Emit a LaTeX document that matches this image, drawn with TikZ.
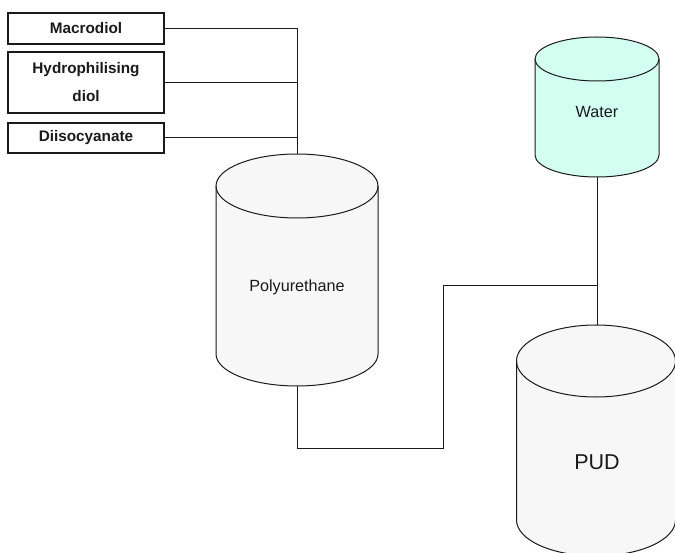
\documentclass[tikz,border=0pt]{standalone}
\usepackage{fontspec}
\setmainfont{Liberation Sans}
\definecolor{inkc}{HTML}{1A1A1A}
\definecolor{drumgray}{HTML}{F7F7F7}
\definecolor{watercyan}{HTML}{D2FFF0}
% drum: centre x, top-ellipse centre y, bottom-ellipse centre y, rx (pt), ry (pt), fill
\newcommand\drum[6]{%
  \filldraw[drumline, fill=#6] (#1-#4,#2) -- (#1-#4,#3) arc[start angle=180, end angle=360, x radius=#4pt, y radius=#5pt]
    -- (#1+#4,#2) arc[start angle=0, end angle=180, x radius=#4pt, y radius=#5pt] -- cycle;
  \draw[drumline] (#1-#4,#2) arc[start angle=180, end angle=360, x radius=#4pt, y radius=#5pt];
}
\begin{document}
\begin{tikzpicture}[x=1pt, y=-1pt,
  feedbox/.style={draw=inkc, line width=1.3pt, minimum width=156pt, inner sep=0pt,
    font=\fontsize{15.3}{28}\selectfont\bfseries, text=inkc, align=center},
  drumline/.style={draw=inkc, line width=1pt},
  pipe/.style={draw=inkc, line width=1pt},
  drumlabel/.style={font=\fontsize{16.2}{18}\selectfont, text=inkc}]
\useasboundingbox (0,0) rectangle (675,553);
\clip (0,0) rectangle (675,553);

% feed boxes
\node[feedbox, minimum height=31pt] (macro) at (86,28.5) {Macrodiol};
\node[feedbox, minimum height=61pt] (hydro) at (86,82.5) {Hydrophilising\\diol};
\node[feedbox, minimum height=30pt] (diiso) at (86,138) {Diisocyanate};

% vessels
\drum{297}{186}{354}{81}{32}{drumgray}
\drum{597}{59}{155}{62}{22}{watercyan}
\drum{596}{361}{520}{79.5}{36}{drumgray}

\node[drumlabel] (pu) at (297,287) {Polyurethane};
\node[drumlabel] (water) at (597,112) {Water};
\node[drumlabel, font=\fontsize{21.5}{24}\selectfont] (pud) at (597,462) {PUD};

% connection points
\coordinate (puTop) at (297,154);
\coordinate (puBot) at (297,386);
\coordinate (waterBot) at (597,177);
\coordinate (pudTop) at (597,325);
\coordinate (jA) at (443,448);
\coordinate (jB) at (597,286);

% piping
\draw[pipe] (macro.east) -| (puTop);
\draw[pipe] (hydro.east) -- (hydro.east -| puTop);
\draw[pipe] (diiso.east) -- (diiso.east -| puTop);
\draw[pipe] (puBot) |- (jA) |- (jB);
\draw[pipe] (waterBot) -- (pudTop);
\end{tikzpicture}
\end{document}
